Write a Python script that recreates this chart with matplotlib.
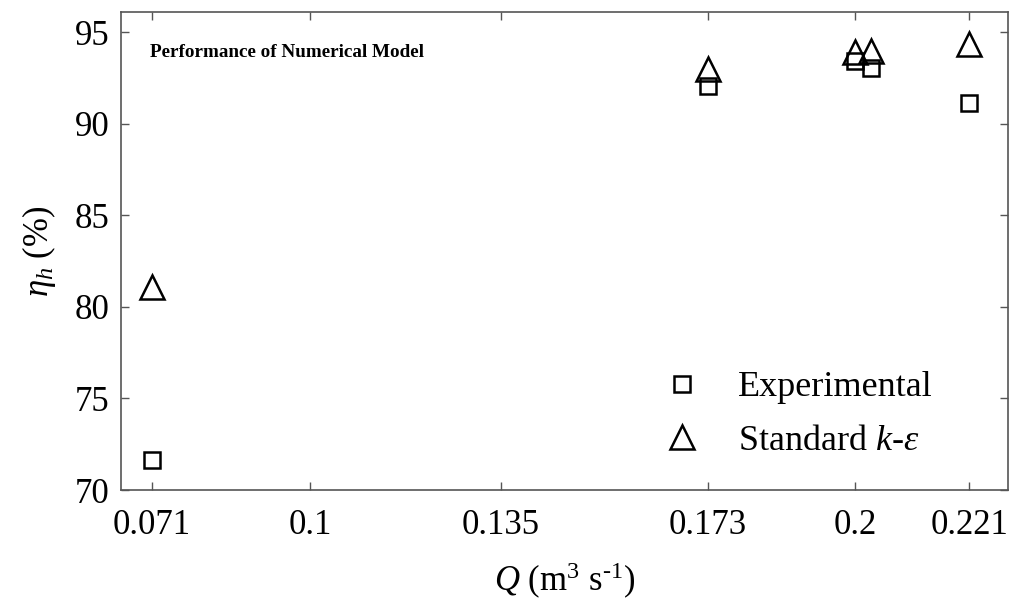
import matplotlib
matplotlib.use('Agg')
import matplotlib.pyplot as plt

plt.rcParams['font.family'] = ['Liberation Serif', 'DejaVu Serif']
plt.rcParams['mathtext.fontset'] = 'custom'
plt.rcParams['mathtext.rm'] = 'Liberation Serif'
plt.rcParams['mathtext.it'] = 'Liberation Serif:italic'
plt.rcParams['mathtext.bf'] = 'Liberation Serif:bold'

# flow rate Q (m3/s)
q_exp = [0.071, 0.173, 0.200, 0.203, 0.221]
eta_exp = [71.65, 92.05, 93.45, 93.05, 91.15]
q_num = [0.071, 0.173, 0.200, 0.203, 0.221]
eta_num = [81.1, 93.0, 93.9, 94.0, 94.35]

xticks = [0.071, 0.1, 0.135, 0.173, 0.2, 0.221]
xticklabels = ['0.071', '0.1', '0.135', '0.173', '0.2', '0.221']
yticks = [70, 75, 80, 85, 90, 95]

fig = plt.figure(figsize=(10.24, 6.05), dpi=100)
ax = fig.add_axes([0.118, 0.19, 0.866, 0.79])

ax.plot(q_exp, eta_exp, 's', ms=12, mfc='none', mec='black', mew=1.8,
        label='Experimental')
ax.plot(q_num, eta_num, '^', ms=17, mfc='none', mec='black', mew=1.8,
        label=r'Standard $k$-$\varepsilon$')

ax.set_xlim(0.0653, 0.2280)
ax.set_ylim(70, 96.1)
ax.set_xticks(xticks)
ax.set_xticklabels(xticklabels)
ax.set_yticks(yticks)
ax.tick_params(direction='in', length=6, width=1, color='#555555',
               labelsize=25, top=True, right=True)
ax.tick_params(axis='x', pad=14)
ax.tick_params(axis='y', pad=8)
for s in ax.spines.values():
    s.set_color('#555555')
    s.set_linewidth(1.2)

ax.set_xlabel(r'$Q$ (m$^3$ s$^{\text{-1}}$)', fontsize=25, labelpad=13)
ax.set_ylabel(r'$\eta_h$ (%)', fontsize=25, labelpad=12)

ax.text(0.033, 0.915, 'Performance of Numerical Model', transform=ax.transAxes,
        fontsize=13.8, fontweight='bold', ha='left', va='center')

ax.legend(loc='lower right', bbox_to_anchor=(0.952, 0.0), frameon=False,
          fontsize=26, handletextpad=1.05, labelspacing=0.55, handlelength=1.0)

plt.savefig('out.png', dpi=100)
plt.close()
